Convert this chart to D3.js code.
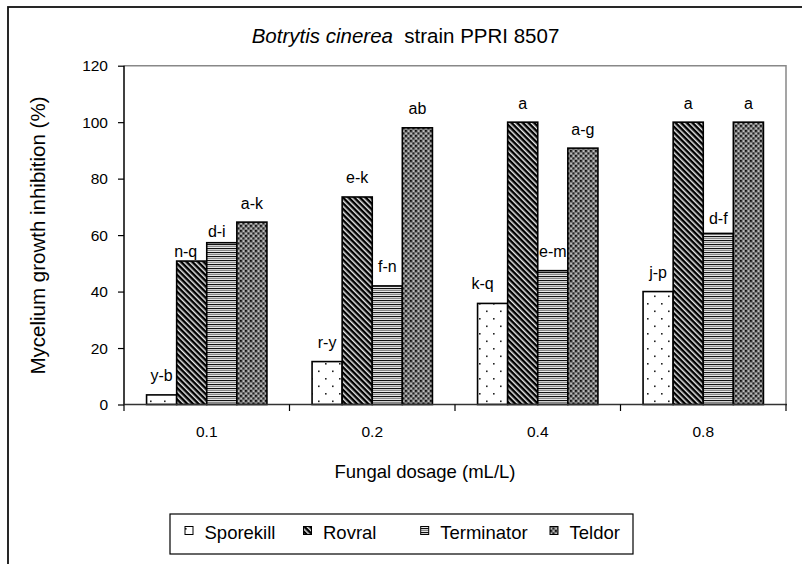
<!DOCTYPE html>
<html><head><meta charset="utf-8">
<script src="https://cdn.jsdelivr.net/npm/d3@7/dist/d3.min.js"></script>
<style>body{margin:0;background:#fff}svg{display:block}text{font-family:"Liberation Sans",Arial,sans-serif;fill:#000}</style>
</head><body><svg id="c" width="802" height="564"></svg>
<script>
const categories = ["0.1", "0.2", "0.4", "0.8"];
const seriesNames = ["Sporekill", "Rovral", "Terminator", "Teldor"];
const sporekill  = [3.4, 15.2, 35.8, 40.0];
const rovral     = [50.8, 73.5, 100, 100];
const terminator = [57.3, 42.0, 47.4, 60.6];
const teldor     = [64.6, 98.0, 90.8, 100];
const letters = [
  ["y-b", "r-y", "k-q", "j-p"],
  ["n-q", "e-k", "a", "a"],
  ["d-i", "f-n", "e-m", "d-f"],
  ["a-k", "ab", "a-g", "a"]
];
const yTicks = [0, 20, 40, 60, 80, 100, 120];
const values = [sporekill, rovral, terminator, teldor];

// layout
const L = 124, R = 786, T = 65.7, B = 404.5;
const svg = d3.select("#c");
const defs = svg.append("defs");

// patterns
let p = defs.append("pattern").attr("id","pSpore").attr("patternUnits","userSpaceOnUse").attr("width",14).attr("height",15);
p.append("rect").attr("width",14).attr("height",15).attr("fill","#fff");
p.append("rect").attr("x",3).attr("y",3).attr("width",1.6).attr("height",1.6).attr("fill","#222");
p.append("rect").attr("x",10).attr("y",10.5).attr("width",1.6).attr("height",1.6).attr("fill","#222");

p = defs.append("pattern").attr("id","pRov").attr("patternUnits","userSpaceOnUse").attr("width",4).attr("height",4).attr("patternTransform","rotate(-45)");
p.append("rect").attr("width",4).attr("height",4).attr("fill","#000");
p.append("rect").attr("x",0).attr("width",1.5).attr("height",4).attr("fill","#e8e8e8");

p = defs.append("pattern").attr("id","pTerm").attr("patternUnits","userSpaceOnUse").attr("width",4).attr("height",4);
p.append("rect").attr("width",4).attr("height",4).attr("fill","#fff");
p.append("rect").attr("y",0).attr("width",4).attr("height",1.2).attr("fill","#111");
p.append("rect").attr("y",2).attr("width",4).attr("height",1.2).attr("fill","#888");

p = defs.append("pattern").attr("id","pTeld").attr("patternUnits","userSpaceOnUse").attr("width",5).attr("height",5);
p.append("rect").attr("width",5).attr("height",5).attr("fill","#7e7e7e");
p.append("rect").attr("x",0).attr("y",0).attr("width",1.8).attr("height",1.8).attr("fill","#111");
p.append("rect").attr("x",2.5).attr("y",2.5).attr("width",1.8).attr("height",1.8).attr("fill","#222");
p.append("rect").attr("x",0.5).attr("y",3).attr("width",1.2).attr("height",1.2).attr("fill","#ddd");
p.append("rect").attr("x",3).attr("y",0.5).attr("width",1.2).attr("height",1.2).attr("fill","#ddd");
const fills = ["url(#pSpore)","url(#pRov)","url(#pTerm)","url(#pTeld)"];

// outer frame
svg.append("rect").attr("x",8).attr("y",7).attr("width",810).attr("height",580)
  .attr("fill","none").attr("stroke","#111").attr("stroke-width",1.8);

const x0 = d3.scaleBand().domain(categories).range([L, R]).paddingInner(0).paddingOuter(0);
const bw = x0.bandwidth() / 5.5;
const x1 = d3.scaleBand().domain(seriesNames).range([0, bw*4]);
const y = d3.scaleLinear().domain([0, 120]).range([B, T]);

// plot frame top/right
svg.append("path").attr("d",`M${L},${T}H${R}V${B}`).attr("fill","none").attr("stroke","#888").attr("stroke-width",1.5);

// bars
const g = svg.append("g");
seriesNames.forEach((s, si) => {
  categories.forEach((c, ci) => {
    const v = values[si][ci];
    const bx = x0(c) + (x0.bandwidth() - bw*4)/2 + x1(s);
    g.append("rect").attr("x", bx).attr("y", y(v)).attr("width", bw).attr("height", y(0)-y(v))
      .attr("fill", fills[si]).attr("stroke","#000").attr("stroke-width",1.6);
  });
});

// significance letters
const nudge = {"0-1":[-6,10],"0-2":[-5,11],"3-2":[0,15],"2-0":[-10,20]};
seriesNames.forEach((s, si) => {
  categories.forEach((c, ci) => {
    const v = values[si][ci];
    const cx = x0(c) + (x0.bandwidth() - bw*4)/2 + x1(s) + bw/2;
    const n = nudge[ci+"-"+si] || [0,19];
    svg.append("text").attr("x", cx + n[0]).attr("y", y(v) - n[1] + 5.5)
      .attr("text-anchor","middle").attr("font-size",16).text(letters[si][ci]);
  });
});

// axes
const yAxis = svg.append("g").attr("transform",`translate(${L},0)`)
  .call(d3.axisLeft(y).tickValues(yTicks).tickSize(6).tickPadding(10).tickFormat(d3.format("d")));
yAxis.select(".domain").attr("stroke","#000").attr("stroke-width",1.5).attr("d",`M0,${T}V${B}`);
yAxis.selectAll(".tick line").attr("stroke","#000").attr("stroke-width",1.2);
yAxis.selectAll(".tick text").attr("font-size",15.5).attr("fill","#000");

svg.append("line").attr("x1",L-1).attr("x2",R+1).attr("y1",B).attr("y2",B).attr("stroke","#333").attr("stroke-width",1.6);
const bounds = categories.map(c => x0(c)).concat([R]);
svg.selectAll(".xt").data(bounds).enter().append("line")
  .attr("x1",d=>d).attr("x2",d=>d).attr("y1",B).attr("y2",B+6.5).attr("stroke","#000").attr("stroke-width",1.2);
svg.selectAll(".xl").data(categories).enter().append("text")
  .attr("x", d => x0(d) + x0.bandwidth()/2).attr("y", 437).attr("text-anchor","middle")
  .attr("font-size",15.5).text(d=>d);

// titles
const title = svg.append("text").attr("x",405.5).attr("y",43).attr("text-anchor","middle").attr("font-size",20.5).attr("xml:space","preserve");
title.append("tspan").attr("font-style","italic").text("Botrytis cinerea");
title.append("tspan").text("  strain PPRI 8507");
svg.append("text").attr("x",425).attr("y",478).attr("text-anchor","middle").attr("font-size",18.5).text("Fungal dosage (mL/L)");
svg.append("text").attr("transform",`translate(45,235.5) rotate(-90)`).attr("text-anchor","middle").attr("font-size",20.5).text("Mycelium growth inhibition (%)");

// legend
svg.append("rect").attr("x",170).attr("y",514).attr("width",463).attr("height",40).attr("fill","#fff").attr("stroke","#000").attr("stroke-width",1.2);
const legX = [185, 303.5, 420.7, 550];
seriesNames.forEach((s, i) => {
  svg.append("rect").attr("x",legX[i]).attr("y",526.5).attr("width",8).attr("height",8)
    .attr("fill",fills[i]).attr("stroke","#000").attr("stroke-width",1);
  svg.append("text").attr("x",legX[i]+19.5).attr("y",539).attr("font-size",18.5).text(s);
});
</script></body></html>
